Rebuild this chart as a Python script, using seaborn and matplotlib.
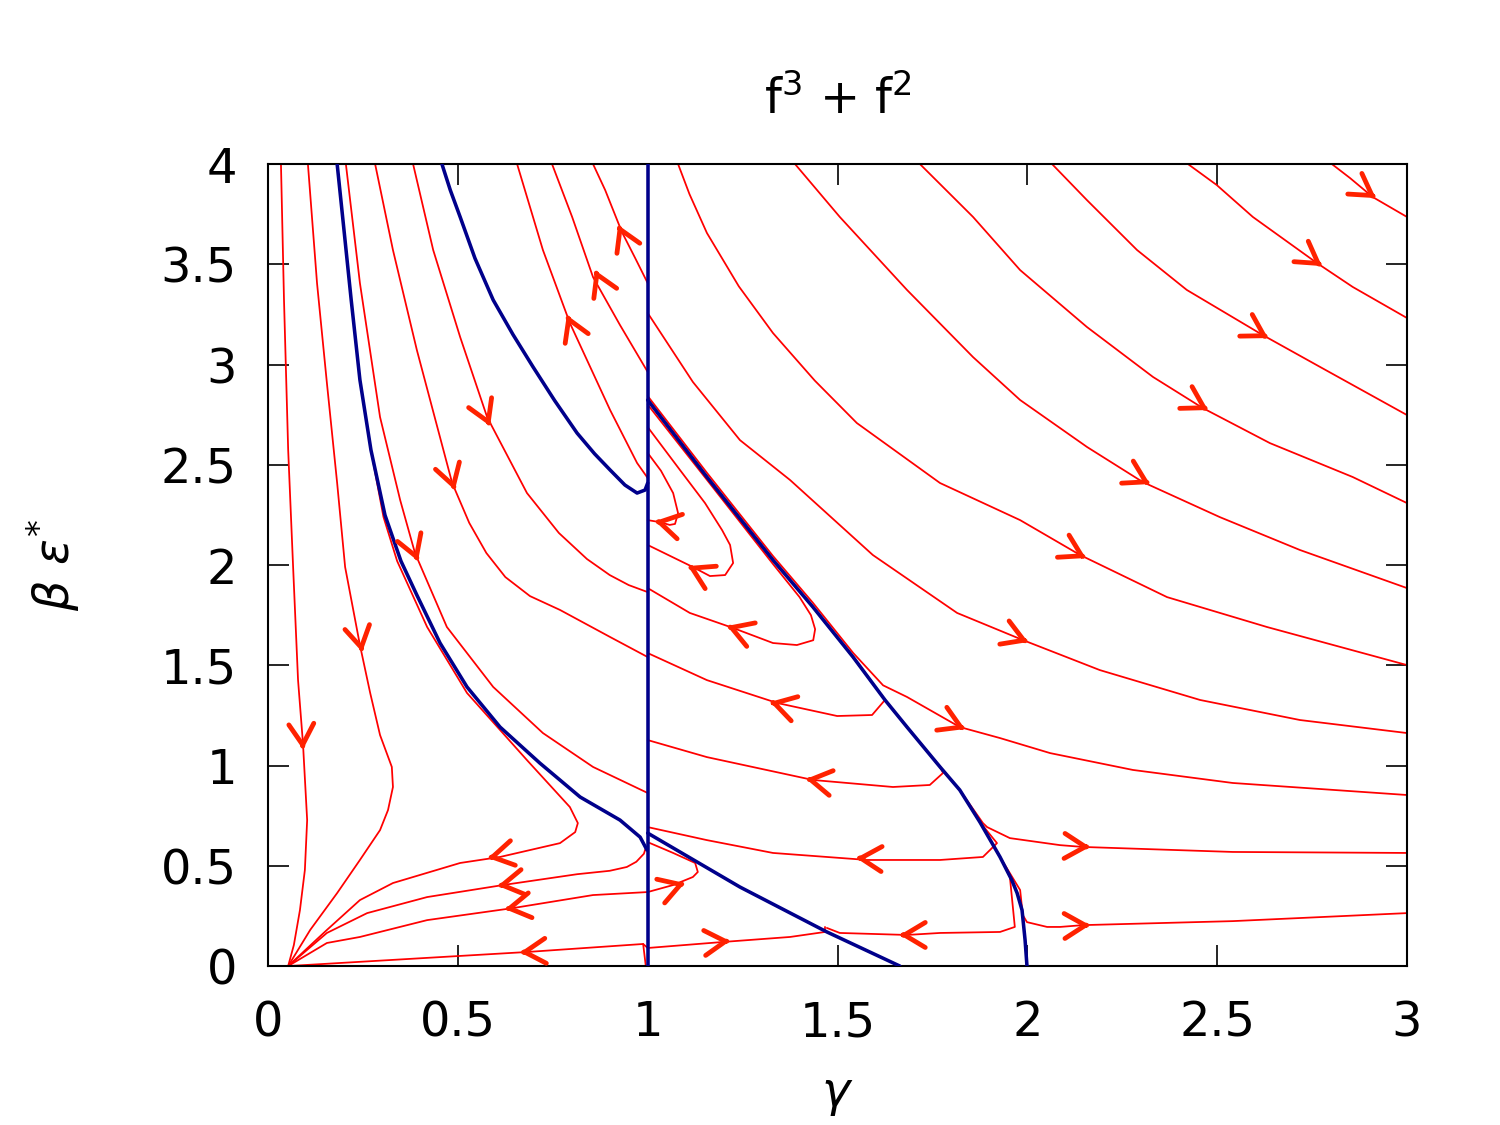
import numpy as np
import pandas as pd
import matplotlib
matplotlib.use("Agg")
import matplotlib.pyplot as plt
import seaborn as sns

# ==== flow lines, (gamma, beta*eps) ====
# separatrices (blue)
B_vert = [(1.0, 0.0), (1.0, 4.0)]
B1 = [(0.182, 4.0), (0.200, 3.671), (0.219, 3.322), (0.242, 2.923), (0.271, 2.574), (0.308, 2.249),
      (0.350, 2.020), (0.392, 1.850), (0.453, 1.611), (0.524, 1.392), (0.611, 1.192), (0.716, 1.012),
      (0.822, 0.843), (0.927, 0.728), (0.980, 0.643), (0.998, 0.579)]
B2 = [(0.458, 4.0), (0.480, 3.870), (0.506, 3.736), (0.545, 3.530), (0.593, 3.322), (0.645, 3.150),
      (0.698, 2.988), (0.755, 2.820), (0.814, 2.658), (0.860, 2.555), (0.901, 2.474), (0.940, 2.399),
      (0.972, 2.359), (0.993, 2.374), (1.0, 2.409)]
B3 = [(1.0, 2.823), (1.156, 2.439), (1.330, 2.025), (1.435, 1.791), (1.541, 1.541), (1.625, 1.327),
      (1.683, 1.192), (1.770, 0.993), (1.822, 0.878), (1.875, 0.718), (1.928, 0.544), (1.959, 0.429),
      (1.973, 0.364), (1.986, 0.279), (1.994, 0.130), (1.999, 0.0)]
B5 = [(1.0, 0.663), (1.243, 0.394), (1.472, 0.170), (1.664, 0.0)]

# region gamma < 1
L1 = [(0.034, 4.0), (0.042, 3.322), (0.053, 2.574), (0.066, 1.990), (0.079, 1.426), (0.092, 1.110),
      (0.103, 0.728), (0.097, 0.479), (0.084, 0.279), (0.068, 0.105), (0.053, 0.0)]
L2 = [(0.105, 4.0), (0.129, 3.406), (0.155, 2.908), (0.182, 2.409), (0.203, 1.990), (0.242, 1.601),
      (0.269, 1.362), (0.295, 1.152), (0.326, 0.993), (0.329, 0.893), (0.316, 0.778), (0.295, 0.678),
      (0.242, 0.529), (0.182, 0.364), (0.111, 0.180), (0.053, 0.0)]
L3 = [(0.182, 4.0), (0.200, 3.671), (0.219, 3.322), (0.242, 2.923), (0.271, 2.574), (0.304, 2.240),
      (0.340, 2.020), (0.419, 1.691), (0.524, 1.362), (0.682, 1.027), (0.795, 0.793), (0.816, 0.713),
      (0.809, 0.668), (0.769, 0.613), (0.611, 0.544), (0.506, 0.514), (0.329, 0.414), (0.242, 0.329),
      (0.155, 0.180), (0.053, 0.0)]
L5 = [(0.995, 0.590), (0.990, 0.560), (0.970, 0.520), (0.945, 0.494), (0.900, 0.475), (0.814, 0.458),
      (0.619, 0.404), (0.419, 0.344), (0.261, 0.264), (0.155, 0.165), (0.053, 0.0)]
L6 = [(0.053, 0.0), (0.155, 0.115), (0.242, 0.145), (0.419, 0.229), (0.645, 0.289), (0.856, 0.354),
      (1.0, 0.369), (1.067, 0.404), (1.119, 0.444), (1.132, 0.469), (1.125, 0.514), (1.067, 0.564),
      (1.0, 0.618)]
L8 = [(0.995, 0.0), (0.988, 0.110), (0.682, 0.070), (0.053, 0.0)]
U1 = [(0.856, 4.0), (0.888, 3.870), (0.932, 3.661), (0.967, 3.531), (1.0, 3.406)]
U2 = [(0.748, 4.0), (0.801, 3.736), (0.856, 3.436), (0.927, 3.197), (1.0, 2.963)]
U3 = [(0.656, 4.0), (0.724, 3.571), (0.795, 3.207), (0.901, 2.773), (0.972, 2.509), (1.0, 2.434)]
D1 = [(0.382, 4.0), (0.435, 3.571), (0.506, 3.137), (0.577, 2.738), (0.682, 2.359), (0.766, 2.160),
      (0.840, 2.030), (0.900, 1.950), (0.950, 1.900), (1.0, 1.865)]
D2 = [(0.282, 4.0), (0.329, 3.571), (0.392, 3.072), (0.485, 2.409), (0.530, 2.210), (0.575, 2.060),
      (0.625, 1.940), (0.690, 1.845), (0.769, 1.776), (0.901, 1.641), (1.0, 1.541)]
D3 = [(0.205, 4.0), (0.242, 3.406), (0.295, 2.738), (0.348, 2.324), (0.387, 2.060), (0.471, 1.691),
      (0.593, 1.392), (0.724, 1.162), (0.856, 0.993), (1.0, 0.863)]

# region gamma > 1, flowing back to gamma = 1
C1 = [(1.0, 2.559), (1.035, 2.47), (1.067, 2.359), (1.080, 2.259), (1.072, 2.205), (1.058, 2.200),
      (1.032, 2.214), (1.0, 2.224)]
C2 = [(1.0, 2.688), (1.085, 2.474), (1.151, 2.309), (1.196, 2.174), (1.217, 2.100), (1.225, 2.010),
      (1.204, 1.950), (1.164, 1.945), (1.119, 1.990), (1.0, 2.100)]
C3 = [(1.0, 2.800), (1.156, 2.425), (1.330, 2.005), (1.400, 1.840), (1.430, 1.750), (1.441, 1.680),
      (1.436, 1.625), (1.393, 1.601), (1.330, 1.611), (1.225, 1.686), (1.111, 1.761), (1.0, 1.885)]
C4 = B3[:6] + [(1.591, 1.252), (1.499, 1.247), (1.341, 1.312), (1.156, 1.426), (1.0, 1.561)]
C5 = B3[:8] + [(1.778, 0.963), (1.743, 0.903), (1.646, 0.893), (1.435, 0.928), (1.156, 1.042),
               (1.0, 1.127)]
C6 = B3[:10] + [(1.920, 0.613), (1.883, 0.544), (1.770, 0.529), (1.578, 0.529), (1.330, 0.564),
                (1.156, 0.628), (1.0, 0.693)]
C7 = B3[:11] + [(1.954, 0.444), (1.967, 0.195), (1.928, 0.170), (1.770, 0.165), (1.683, 0.155),
                (1.506, 0.165), (1.472, 0.190)]
C8 = [(0.988, 0.110), (1.0, 0.090), (1.198, 0.120), (1.375, 0.145), (1.467, 0.170), (1.467, 0.195)]

# region gamma > 1, flowing out to the right
R1 = [(2.802, 4.0), (2.850, 3.930), (2.910, 3.835), (3.0, 3.736)]
R2 = [(2.423, 4.0), (2.499, 3.895), (2.594, 3.736), (2.763, 3.506), (2.857, 3.387), (3.0, 3.232)]
R3 = [(2.065, 4.0), (2.157, 3.820), (2.289, 3.571), (2.420, 3.372), (2.620, 3.147), (2.771, 2.988),
      (3.0, 2.748)]
R4 = [(1.717, 4.0), (1.857, 3.736), (1.981, 3.471), (2.157, 3.187), (2.331, 2.938), (2.462, 2.783),
      (2.639, 2.608), (2.857, 2.439), (3.0, 2.309)]
R5 = [(1.388, 4.0), (1.506, 3.736), (1.683, 3.372), (1.857, 3.037), (1.981, 2.823), (2.157, 2.589),
      (2.304, 2.414), (2.507, 2.239), (2.718, 2.075), (3.0, 1.885)]
R6 = [(1.080, 4.0), (1.110, 3.850), (1.156, 3.656), (1.240, 3.390), (1.330, 3.157), (1.440, 2.920),
      (1.551, 2.708), (1.770, 2.409), (1.981, 2.224), (2.139, 2.050), (2.368, 1.840), (2.631, 1.691),
      (3.0, 1.501)]
R7 = [(1.0, 3.257), (1.119, 2.913), (1.243, 2.623), (1.375, 2.424), (1.593, 2.050), (1.815, 1.761),
      (1.988, 1.626), (2.191, 1.476), (2.455, 1.327), (2.718, 1.227), (3.0, 1.162)]
R8 = [(1.0, 2.843), (1.156, 2.460), (1.330, 2.045), (1.435, 1.812), (1.541, 1.562), (1.620, 1.400),
      (1.683, 1.342), (1.822, 1.192), (1.928, 1.137), (2.060, 1.062), (2.278, 0.978), (2.541, 0.913),
      (3.0, 0.853)]
R9 = B3[:9] + [(1.883, 0.713), (1.894, 0.693), (1.954, 0.638), (2.086, 0.603), (2.146, 0.594),
               (2.541, 0.569), (3.0, 0.564)]
R10 = B3[:11] + [(1.981, 0.379), (1.988, 0.254), (1.999, 0.219), (2.052, 0.195), (2.086, 0.195),
                 (2.146, 0.204), (2.541, 0.224), (3.0, 0.264)]

# arrow tips: (curve, gamma, beta, +1 along list order / -1 against)
arrows = [("L1", 0.092, 1.08, 1), ("L2", 0.248, 1.566, 1), ("L3", 0.579, 0.539, 1),
          ("L5", 0.605, 0.400, 1), ("L6", 0.624, 0.284, -1), ("L6", 1.098, 0.414, 1),
          ("L8", 0.664, 0.068, 1), ("C8", 1.217, 0.125, 1),
          ("U1", 0.922, 3.696, -1), ("U2", 0.861, 3.471, -1), ("U3", 0.787, 3.247, -1),
          ("D1", 0.585, 2.693, 1), ("D2", 0.492, 2.374, 1), ("D3", 0.395, 2.020, 1),
          ("C1", 1.019, 2.219, 1), ("C2", 1.106, 1.995, 1), ("C3", 1.209, 1.696, 1),
          ("C4", 1.322, 1.317, 1), ("C5", 1.417, 0.933, 1), ("C6", 1.549, 0.539, 1),
          ("C7", 1.664, 0.155, 1),
          ("R1", 2.918, 3.830, 1), ("R2", 2.776, 3.491, 1), ("R3", 2.634, 3.132, 1),
          ("R4", 2.476, 2.773, 1), ("R5", 2.323, 2.404, 1), ("R6", 2.154, 2.035, 1),
          ("R7", 2.002, 1.616, 1), ("R8", 1.836, 1.182, 1), ("R9", 2.165, 0.594, 1),
          ("R10", 2.165, 0.204, 1)]

red = {"L1": L1, "L2": L2, "L3": L3, "L5": L5, "L6": L6, "L8": L8, "U1": U1, "U2": U2, "U3": U3,
       "D1": D1, "D2": D2, "D3": D3, "C1": C1, "C2": C2, "C3": C3, "C4": C4, "C5": C5, "C6": C6,
       "C7": C7, "C8": C8, "R1": R1, "R2": R2, "R3": R3, "R4": R4, "R5": R5, "R6": R6, "R7": R7,
       "R8": R8, "R9": R9, "R10": R10}
blue = {"B_vert": B_vert, "B1": B1, "B2": B2, "B3": B3, "B5": B5}


def to_frame(curves):
    rows = []
    for name, pts in curves.items():
        for i, (g, b) in enumerate(pts):
            rows.append((name, i, g, b))
    return pd.DataFrame(rows, columns=["curve", "i", "gamma", "beta"])


sns.set_theme(style="ticks")
plt.rcParams["font.family"] = ["DejaVu Sans"]
plt.rcParams["mathtext.fontset"] = "dejavusans"
plt.rcParams["text.color"] = "black"
plt.rcParams["axes.labelcolor"] = "black"

fig = plt.figure(figsize=(10, 7.5), dpi=150)
ax = fig.add_axes([0.1787, 0.1413, 0.938 - 0.1787, 0.8542 - 0.1413])
ax.set_xlim(0, 3)
ax.set_ylim(0, 4)

sns.lineplot(data=to_frame(red), x="gamma", y="beta", units="curve", estimator=None, sort=False,
             color="#ff0000", lw=0.85, ax=ax, legend=False)
sns.lineplot(data=to_frame(blue), x="gamma", y="beta", units="curve", estimator=None, sort=False,
             color="#00008b", lw=1.7, ax=ax, legend=False, zorder=3)

# arrowheads along the flow
for name, g, b, sgn in arrows:
    pts = np.array(red[name])
    k = np.argmin(np.hypot(pts[:, 0] - g, pts[:, 1] - b))
    p0 = pts[max(k - 1, 0)]
    p1 = pts[min(k + 1, len(pts) - 1)]
    d = ax.transData.transform(p1) - ax.transData.transform(p0)
    d = sgn * d / np.hypot(*d)
    ax.annotate("", xy=(g, b), xytext=(-d[0] * 2, -d[1] * 2), textcoords="offset points",
                arrowprops=dict(arrowstyle="->,head_length=0.5,head_width=0.3", color="#ff2200",
                                lw=2.3, shrinkA=0, shrinkB=0, mutation_scale=20), zorder=4)

ax.set_xticks([0, 0.5, 1, 1.5, 2, 2.5, 3])
ax.set_xticklabels(["0", "0.5", "1", "1.5", "2", "2.5", "3"])
ax.set_yticks([0, 0.5, 1, 1.5, 2, 2.5, 3, 3.5, 4])
ax.set_yticklabels(["0", "0.5", "1", "1.5", "2", "2.5", "3", "3.5", "4"])
ax.tick_params(direction="in", length=10, width=0.8, top=True, right=True, labelsize=23,
               colors="black")
ax.tick_params(axis="x", pad=16)
ax.tick_params(axis="y", pad=15)
for s in ax.spines.values():
    s.set_linewidth(1.0)
    s.set_color("black")

ax.set_title("f$^{3}$ + f$^{2}$", fontsize=23, pad=24, color="black")
ax.set_xlabel(r"$\gamma$", fontsize=23, labelpad=12, color="black")
ax.set_ylabel(r"$\beta\ \varepsilon^{*}$", fontsize=23, labelpad=38, color="black")

fig.savefig("out.png", dpi=150)
